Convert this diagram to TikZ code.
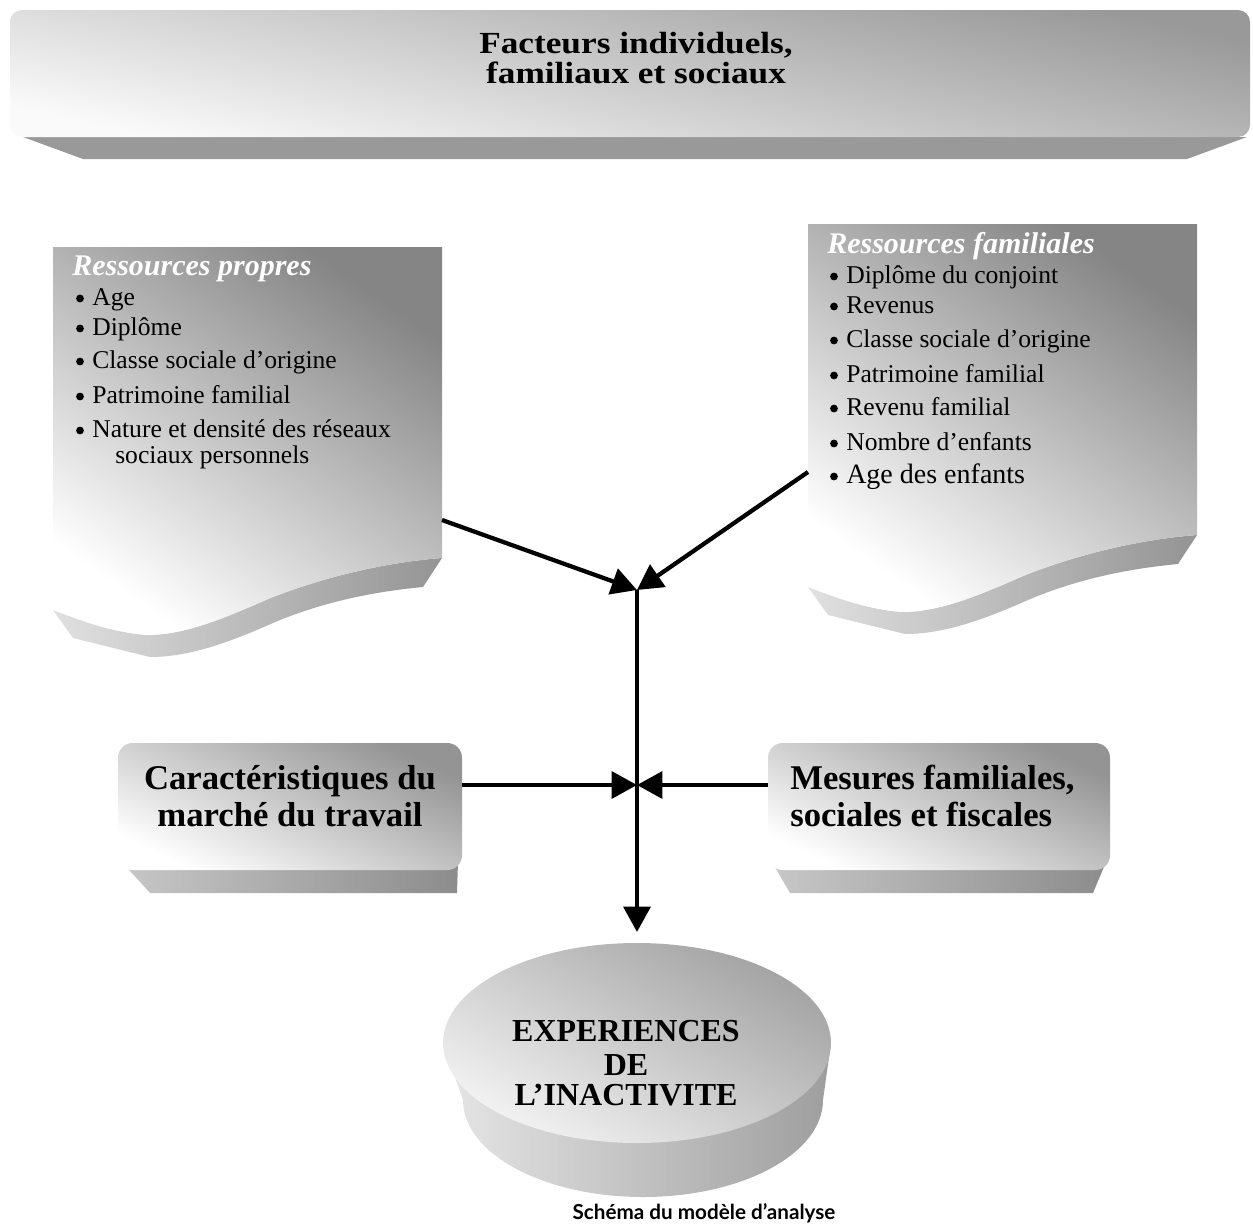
\documentclass[tikz,border=0pt]{standalone}
\usepackage{fontspec}
\setmainfont{Liberation Serif}
\newfontfamily\capfont{Lato}
\usetikzlibrary{arrows.meta}
\begin{document}
\begin{tikzpicture}[x=0.75pt,y=-0.75pt,
  frontdoc/.style={top color=black!48, bottom color=white, shading angle=-35},
  sidedoc/.style={left color=black!12, right color=black!42},
  frontban/.style={top color=black!40, bottom color=black!2, shading angle=-12},
  sideban/.style={fill=black!40},
  frontbox/.style={top color=black!42, bottom color=white, shading angle=-25},
  sidebox/.style={left color=black!22, right color=black!45},
  bulletdot/.style={fill=black},
  arr/.style={line width=3.2pt, -{Triangle[length=19pt,width=20pt]}},
  itemtxt/.style={anchor=base west, inner sep=0pt, font=\fontsize{19.2}{23}\selectfont},
  headtxt/.style={anchor=base west, inner sep=0pt, text=white, font=\fontsize{22.5}{26}\selectfont\bfseries\itshape},
  titletxt/.style={anchor=base, inner sep=0pt, font=\fontsize{23}{27}\selectfont\bfseries},
  boxtxt/.style={inner sep=0pt, font=\fontsize{26}{30}\selectfont\bfseries},
  cyltxt/.style={anchor=base, inner sep=0pt, font=\fontsize{24}{28}\selectfont\bfseries},
  captxt/.style={anchor=base, inner sep=0pt, font=\capfont\fontsize{15.5}{18}\selectfont\bfseries}
]
\useasboundingbox (0,0) rectangle (1253,1224);

% ---------- banner ----------
\def\bfront{[rounded corners=9pt] (10,137) -- (10,10) -- (1250,10) -- (1250,137) -- cycle}
\fill[sideban] (23,137) -- (1247,137) -- (1187,159) -- (83,159) -- cycle;
\shade[frontban] \bfront;
\node[titletxt] (title1) at (636,53) {\scalebox{1.15}[1]{Facteurs individuels,}};
\node[titletxt] (title2) at (636,83) {\scalebox{1.15}[1]{familiaux et sociaux}};

% ---------- documents ----------
\def\dfront{(53,247) -- (442,247) -- (442,558) .. controls (390,562) and (330,575) .. (273,597) .. controls (235,613) and (190,635) .. (147,635) .. controls (110,632) and (80,620) .. (53,610) -- cycle}
\def\dside{(442,558) -- (423,587) .. controls (370,592) and (320,603) .. (273,623) .. controls (230,642) and (190,657) .. (150,657) -- (73,638) -- (53,610) .. controls (80,620) and (110,632) .. (147,635) .. controls (190,635) and (235,613) .. (273,597) .. controls (330,575) and (390,562) .. (442,558) -- cycle}
\shade[sidedoc] \dside;
\shade[frontdoc] \dfront;
\begin{scope}[shift={(755,-23)}]
\shade[sidedoc] \dside;
\shade[frontdoc] \dfront;
\end{scope}

\node[headtxt] (hpropres) at (72,275) {Ressources propres};
\foreach \yy/\nm/\tx in {305/p1/Age, 335/p2/Diplôme, 368/p3/Classe sociale d’origine, 403/p4/Patrimoine familial, 437/p5/Nature et densité des réseaux}{
  \fill[bulletdot] (80,\yy-6.5) circle[radius=3.9];
  \node[itemtxt] (\nm) at (92,\yy) {\tx};
}
\node[itemtxt] (p5b) at (115,463) {sociaux personnels};

\node[headtxt] (hfam) at (827,253) {Ressources familiales};
\foreach \yy/\nm/\tx in {283/f1/Diplôme du conjoint, 313/f2/Revenus, 347/f3/Classe sociale d’origine, 382/f4/Patrimoine familial, 415/f5/Revenu familial, 450/f6/Nombre d’enfants}{
  \fill[bulletdot] (834,\yy-6.5) circle[radius=3.9];
  \node[itemtxt] (\nm) at (846,\yy) {\tx};
}
\fill[bulletdot] (834,476.5) circle[radius=3.9];
\node[itemtxt,font=\fontsize{21}{24}\selectfont] (f7) at (846,483) {Age des enfants};

% ---------- middle boxes ----------
\shade[sidebox] (122,862) -- (458,862) -- (457,893) -- (150,893) -- cycle;
\shade[frontbox,rounded corners=11pt] (118,743) rectangle (462,870);
\shade[sidebox] (772,862) -- (1106,862) -- (1093,893) -- (790,893) -- cycle;
\shade[frontbox,rounded corners=11pt] (768,743) rectangle (1110,870);

\node[boxtxt,anchor=base] (m1) at (290,789) {Caractéristiques du};
\node[boxtxt,anchor=base] (m2) at (290,826) {marché du travail};
\node[boxtxt,anchor=base west] (s1) at (790,789) {Mesures familiales,};
\node[boxtxt,anchor=base west] (s2) at (790,826) {sociales et fiscales};

% ---------- cylinder ----------
\shade[left color=black!10, right color=black!38] (443,1043) -- (463,1100) arc[start angle=180, end angle=0, x radius=180, y radius=97] -- (831,1043) -- cycle;
\shade[top color=black!36, bottom color=black!5, shading angle=-30] (637,1043) ellipse [x radius=194, y radius=100];
\node[cyltxt] (c1) at (626,1041) {EXPERIENCES};
\node[cyltxt] (c2) at (626,1075) {DE};
\node[cyltxt] (c3) at (626,1105) {L’INACTIVITE};

\node[captxt] (cap) at (704,1219) {Schéma du modèle d’analyse};

% ---------- connectors ----------
\coordinate (ldocR) at (442,520);
\coordinate (rdocL) at (808,472);
\coordinate (junA) at (637,590);
\coordinate (junB) at (637,785);
\coordinate (marcheR) at (462,785);
\coordinate (mesuresL) at (768,785);
\coordinate (cylTop) at (637,932);

\draw[arr] (ldocR) -- (junA);
\draw[arr] (rdocL) -- (junA);
\draw[arr] (junA) -- (cylTop);
\draw[arr] (marcheR) -- (junB);
\draw[arr] (mesuresL) -- (junB);
\end{tikzpicture}
\end{document}
